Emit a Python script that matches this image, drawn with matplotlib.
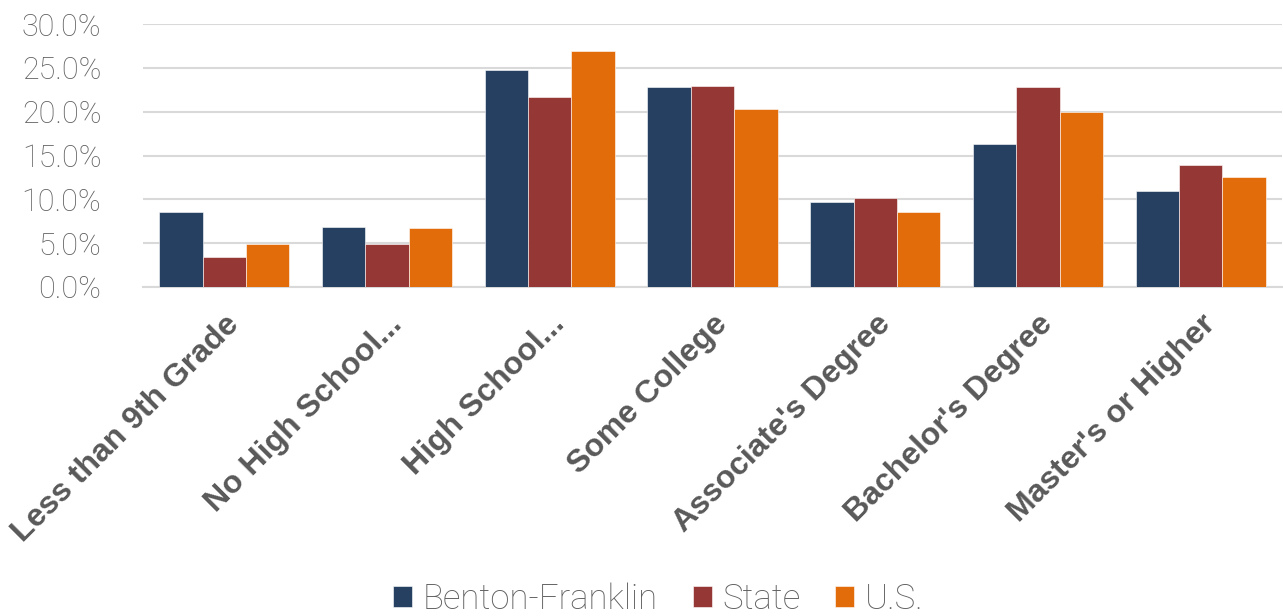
import matplotlib.pyplot as plt
import numpy as np

# Educational attainment shares (percent)
categories = ["Less than 9th Grade", "No High School...", "High School...",
              "Some College", "Associate's Degree", "Bachelor's Degree",
              "Master's or Higher"]
benton_franklin = [8.6, 6.8, 24.7, 22.8, 9.7, 16.3, 11.0]
state = [3.4, 4.9, 21.7, 22.9, 10.2, 22.8, 13.9]
us = [4.9, 6.7, 26.9, 20.3, 8.6, 20.0, 12.6]
series_names = ["Benton-Franklin", "State", "U.S."]
colors = ["#264061", "#953735", "#E36C0A"]

plt.rcParams['font.family'] = ['Roboto', 'DejaVu Sans']

fig = plt.figure(figsize=(12.83, 6.16), dpi=100)
ax = fig.add_axes([143 / 1283, 329 / 616, 1139 / 1283, 263 / 616])

x = np.arange(len(categories))
width = 0.8 / 3
for i, (vals, name, col) in enumerate(zip([benton_franklin, state, us], series_names, colors)):
    ax.bar(x + (i - 1) * width, vals, width, color=col, label=name,
           edgecolor='white', linewidth=0.4, zorder=3)

ax.set_xlim(-0.5, len(categories) - 0.5)
ax.set_ylim(0, 30)
ax.set_yticks(np.arange(0, 31, 5))
ax.set_yticklabels([f"{v:.1f}%" for v in np.arange(0, 31, 5)],
                   fontsize=22, color='#5f5f5f', fontweight='light')
ax.yaxis.grid(True, color='#d9d9d9', linewidth=1.5, zorder=0)
ax.tick_params(axis='y', length=0, pad=30)
ax.tick_params(axis='x', length=0, pad=16)

ax.set_xticks(x)
ax.set_xticklabels(categories, rotation=45, ha='right', va='top',
                   rotation_mode='anchor', fontsize=23, fontweight='bold',
                   color='#595959', family=['Liberation Sans', 'DejaVu Sans'])

for side in ['top', 'right', 'left']:
    ax.spines[side].set_visible(False)
ax.spines['bottom'].set_color('#d9d9d9')
ax.spines['bottom'].set_linewidth(1.5)

leg = fig.legend(loc='lower center', bbox_to_anchor=(0.513, -0.05), ncol=3,
                 frameon=False, handlelength=0.55, handleheight=0.55,
                 handletextpad=0.3, columnspacing=1.0, prop={'weight': 'light', 'size': 25})
for t in leg.get_texts():
    t.set_color('#5f5f5f')

fig.savefig("out.png", dpi=100)
